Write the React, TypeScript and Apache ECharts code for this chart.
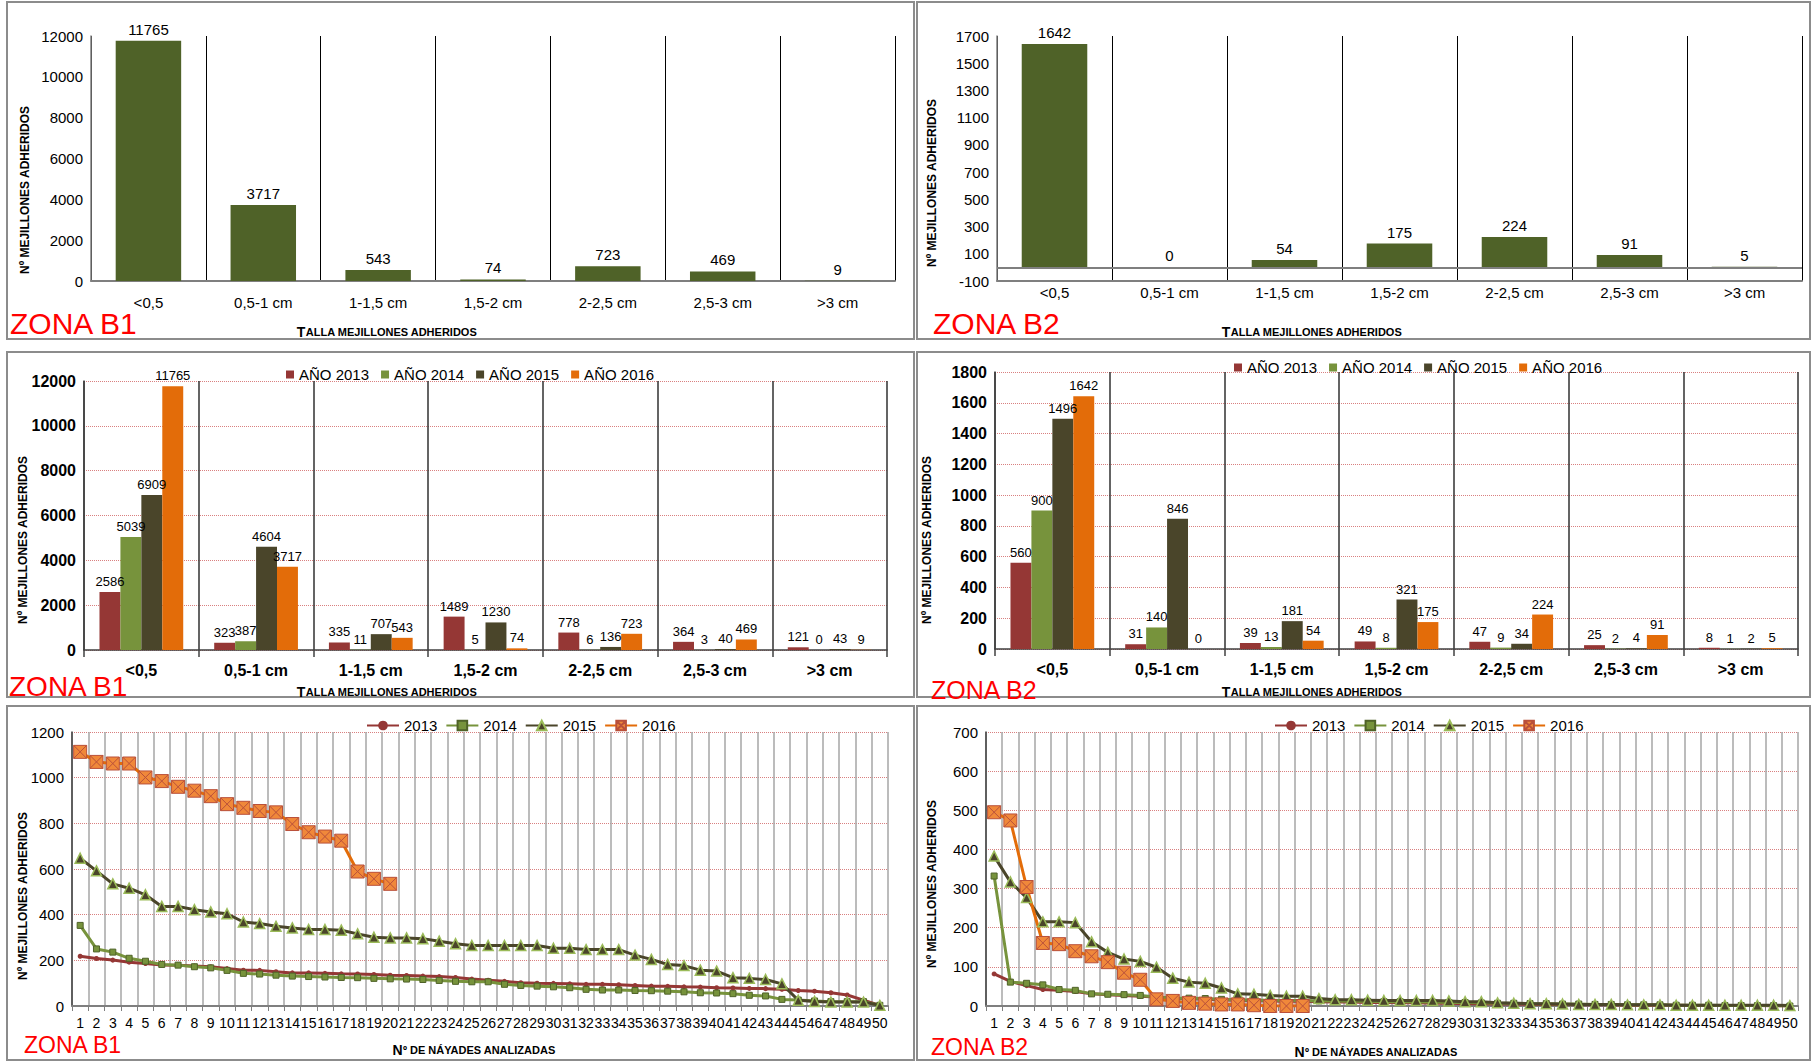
import React, { useEffect, useRef } from 'react';
import * as echarts from 'echarts';

const SIZE_CATEGORIES = ['<0,5', '0,5-1 cm', '1-1,5 cm', '1,5-2 cm', '2-2,5 cm', '2,5-3 cm', '>3 cm'];
const B1_TOTAL_2016 = [11765, 3717, 543, 74, 723, 469, 9];
const B2_TOTAL_2016 = [1642, 0, 54, 175, 224, 91, 5];

const YEAR_NAMES = ['AÑO 2013', 'AÑO 2014', 'AÑO 2015', 'AÑO 2016'];
const B1_2013 = [2586, 323, 335, 1489, 778, 364, 121];
const B1_2014 = [5039, 387, 11, 5, 6, 3, 0];
const B1_2015 = [6909, 4604, 707, 1230, 136, 40, 43];
const B1_2016 = [11765, 3717, 543, 74, 723, 469, 9];
const B2_2013 = [560, 31, 39, 49, 47, 25, 8];
const B2_2014 = [900, 140, 13, 8, 9, 2, 1];
const B2_2015 = [1496, 846, 181, 321, 34, 4, 2];
const B2_2016 = [1642, 0, 54, 175, 224, 91, 5];

const NAYADES = ['1', '2', '3', '4', '5', '6', '7', '8', '9', '10', '11', '12', '13', '14', '15', '16', '17', '18', '19', '20',
  '21', '22', '23', '24', '25', '26', '27', '28', '29', '30', '31', '32', '33', '34', '35', '36', '37', '38', '39', '40',
  '41', '42', '43', '44', '45', '46', '47', '48', '49', '50'];
const LINE_NAMES = ['2013', '2014', '2015', '2016'];

const B1_L2013 = [218, 208, 201, 192, 186, 180, 179, 175, 172, 164, 157, 156, 150, 145, 145, 143, 141, 140, 138, 135,
  134, 131, 129, 125, 118, 113, 108, 102, 100, 99, 97, 95, 95, 93, 90, 87, 86, 84, 83, 80,
  79, 77, 76, 73, 68, 65, 58, 48, 26, 3];
const B1_L2014 = [353, 250, 236, 209, 196, 182, 179, 172, 167, 156, 143, 140, 135, 131, 129, 127, 125, 124, 121, 119,
  118, 116, 112, 108, 106, 106, 95, 90, 87, 84, 80, 73, 70, 70, 68, 67, 65, 62, 58, 57,
  54, 47, 44, 29, 26, 22, 19, 19, 19, 3];
const B1_L2015 = [647, 592, 535, 516, 487, 436, 436, 422, 412, 404, 368, 361, 349, 342, 335, 335, 332, 316, 301, 298,
  298, 295, 284, 273, 265, 265, 265, 265, 265, 253, 253, 247, 247, 247, 223, 204, 182, 177, 157, 153,
  124, 121, 116, 97, 25, 20, 17, 17, 17, 3];
const B1_L2016 = [1113, 1069, 1062, 1062, 1001, 985, 960, 943, 919, 884, 868, 854, 848, 797, 761, 742, 724, 589, 557, 535];

const B2_L2013 = [82, 63, 52, 42, 40, 37, 31, 29, 27, 25, 23, 20, 19, 17, 16, 15, 14, 13, 12, 12,
  11, 10, 10, 9, 9, 8, 8, 7, 7, 6, 6, 5, 5, 4, 4, 4, 3, 3, 3, 2,
  2, 2, 2, 1, 1, 1, 1, 1, 0, 0];
const B2_L2014 = [332, 61, 58, 54, 42, 40, 31, 30, 29, 27, 23, 20, 20, 19, 17, 16, 15, 15, 14, 14,
  13, 13, 12, 12, 11, 11, 10, 10, 9, 9, 8, 7, 7, 6, 6, 5, 5, 4, 4, 3,
  3, 3, 2, 2, 2, 1, 1, 1, 1, 0];
const B2_L2015 = [383, 317, 277, 215, 215, 213, 164, 137, 120, 114, 99, 71, 61, 58, 46, 31, 30, 27, 25, 25,
  19, 16, 16, 15, 14, 14, 14, 14, 13, 11, 11, 8, 7, 6, 6, 5, 4, 4, 4, 3,
  3, 3, 2, 2, 2, 2, 2, 2, 2, 1];
const B2_L2016 = [495, 474, 304, 161, 158, 140, 127, 112, 85, 67, 17, 13, 8, 6, 4, 4, 2, 0, 0, 0];

const FN = '"Liberation Sans Narrow", "Arial Narrow", "Liberation Sans", Arial, sans-serif';
const FS = '"Liberation Sans", Arial, sans-serif';

const C2013 = '#953735';
const C2014 = '#77933c';
const C2015 = '#4a452a';
const C2016 = '#e36c09';
const OLIVE = '#4f6228';
const RED_DOT = { color: '#d98080', type: 'dotted', width: 1 };

const BOX_X = 'path://M0,0L10,0L10,10L0,10Z M0,0L10,10 M10,0L0,10';

function catAxis(gridIndex: number, data: string[], kind: 'top' | 'mid' | 'line', extra: any = {}) {
  const base: any = {
    gridIndex,
    type: 'category',
    data,
    axisLine: { onZero: false, lineStyle: { color: '#7f7f7f', width: 2 } },
    axisTick: { show: false },
    axisLabel: { color: '#000', fontFamily: FN, fontSize: 15, margin: 14, interval: 0 },
    splitLine: { show: true, lineStyle: { color: '#000', width: 1 } },
  };
  if (kind === 'mid') {
    base.axisLine = { onZero: false, lineStyle: { color: '#404040', width: 1.5 } };
    base.axisTick = { show: true, length: 7, lineStyle: { color: '#404040', width: 1.5 } };
    base.axisLabel = { color: '#000', fontFamily: FN, fontSize: 16, fontWeight: 'bold', margin: 12, interval: 0 };
    base.splitLine = { show: true, lineStyle: { color: '#303030', width: 1.5 } };
  }
  if (kind === 'line') {
    base.axisLine = { onZero: false, lineStyle: { color: '#7f7f7f', width: 2 } };
    base.axisTick = { show: true, length: 5, lineStyle: { color: '#7f7f7f' } };
    base.axisLabel = { color: '#000', fontFamily: FN, fontSize: 14, margin: 10, interval: 0 };
    base.splitLine = { show: true, lineStyle: { color: '#a6a6a6', width: 1.5 } };
  }
  return Object.assign(base, extra);
}

function valAxis(gridIndex: number, min: number, max: number, interval: number, kind: 'top' | 'mid' | 'line') {
  return {
    gridIndex,
    type: 'value',
    min,
    max,
    interval,
    axisLine: { show: true, lineStyle: { color: kind === 'top' ? '#7f7f7f' : '#404040', width: 1.5 } },
    axisTick: { show: false },
    axisLabel: {
      color: '#000',
      fontFamily: FN,
      fontSize: kind === 'mid' ? 16 : 15,
      fontWeight: kind === 'mid' ? 'bold' : 'normal',
      margin: 8,
      formatter: (v: number) => String(v),
    },
    splitLine: kind === 'top' ? { show: false } : { show: true, lineStyle: RED_DOT },
  };
}

function barLabel(size: number) {
  return { show: true, position: 'top', color: '#000', fontFamily: FN, fontSize: size, distance: 4 };
}

function groupBars(axis: number, values: number[][]) {
  const colors = [C2013, C2014, C2015, C2016];
  return values.map((v, i) => ({
    type: 'bar',
    name: YEAR_NAMES[i],
    xAxisIndex: axis,
    yAxisIndex: axis,
    data: v,
    barGap: '0%',
    barCategoryGap: '27%',
    itemStyle: { color: colors[i] },
    label: barLabel(13),
  }));
}

function lineSeries(axis: number, values: number[][]) {
  const styles = [
    { symbol: 'circle', symbolSize: 5, itemStyle: { color: C2013 }, lineStyle: { color: C2013, width: 3 } },
    { symbol: 'rect', symbolSize: 6, itemStyle: { color: '#77933c', borderColor: '#4f6228', borderWidth: 1 }, lineStyle: { color: C2014, width: 3 } },
    { symbol: 'triangle', symbolSize: 10, itemStyle: { color: C2015, borderColor: '#9bbb59', borderWidth: 1.5 }, lineStyle: { color: C2015, width: 3 } },
    { symbol: BOX_X, symbolSize: 13, itemStyle: { color: '#f0883a', borderColor: '#b9503a', borderWidth: 1 }, lineStyle: { color: C2016, width: 3 } },
  ];
  return values.map((v, i) => ({
    type: 'line',
    name: LINE_NAMES[i],
    xAxisIndex: axis,
    yAxisIndex: axis,
    data: v,
    showSymbol: true,
    showAllSymbol: true,
    ...styles[i],
  }));
}

function border(x: number, y: number, w: number, h: number) {
  return { type: 'rect', shape: { x, y, width: w, height: h }, style: { fill: 'none', stroke: '#8c8c8c', lineWidth: 2 }, silent: true };
}

function zona(text: string, x: number, y: number, size: number) {
  return { type: 'text', x, y, style: { text, fill: '#ff0000', font: `${size}px ${FS}`, align: 'left', verticalAlign: 'bottom' }, silent: true };
}

function yTitle(x: number, y: number) {
  return {
    type: 'text', x, y, rotation: Math.PI / 2,
    style: { text: 'Nº MEJILLONES ADHERIDOS', fill: '#000', font: `bold 12px ${FS}`, align: 'center', verticalAlign: 'middle' },
    silent: true,
  };
}

function xTitle(first: string, rest: string, x: number, y: number) {
  return {
    type: 'text', x, y,
    style: {
      text: `{a|${first}}{b|${rest}}`,
      align: 'center',
      verticalAlign: 'middle',
      rich: {
        a: { fontSize: 14, fontWeight: 'bold', fontFamily: FN, fill: '#000', color: '#000' },
        b: { fontSize: 11, fontWeight: 'bold', fontFamily: FN, fill: '#000', color: '#000' },
      },
    },
    silent: true,
  };
}

export default function App() {
  const ref = useRef<HTMLDivElement>(null);
  useEffect(() => {
    if (!ref.current) return;
    const chart = echarts.init(ref.current, undefined, { renderer: 'svg' });
    const option: any = {
      animation: false,
      backgroundColor: '#ffffff',
      textStyle: { fontFamily: FN },
      grid: [
        { left: 91, top: 36, width: 804, height: 245 },
        { left: 997, top: 36, width: 805, height: 245 },
        { left: 84, top: 381, width: 803, height: 269 },
        { left: 995, top: 372, width: 803, height: 277 },
        { left: 72, top: 732, width: 816, height: 274 },
        { left: 986, top: 732, width: 812, height: 274 },
      ],
      xAxis: [
        catAxis(0, SIZE_CATEGORIES, 'top'),
        catAxis(1, SIZE_CATEGORIES, 'top', { axisLabel: { color: '#000', fontFamily: FN, fontSize: 15, margin: 4, interval: 0 } }),
        catAxis(2, SIZE_CATEGORIES, 'mid'),
        catAxis(3, SIZE_CATEGORIES, 'mid'),
        catAxis(4, NAYADES, 'line'),
        catAxis(5, NAYADES, 'line'),
      ],
      yAxis: [
        valAxis(0, 0, 12000, 2000, 'top'),
        valAxis(1, -100, 1700, 200, 'top'),
        valAxis(2, 0, 12000, 2000, 'mid'),
        valAxis(3, 0, 1800, 200, 'mid'),
        valAxis(4, 0, 1200, 200, 'line'),
        valAxis(5, 0, 700, 100, 'line'),
      ],
      legend: [
        { data: YEAR_NAMES, left: 281, top: 362, icon: 'rect', itemWidth: 8, itemHeight: 8, itemGap: 12, textStyle: { fontFamily: FN, fontSize: 15, color: '#000' } },
        { data: YEAR_NAMES, left: 1229, top: 355, icon: 'rect', itemWidth: 8, itemHeight: 8, itemGap: 12, textStyle: { fontFamily: FN, fontSize: 15, color: '#000' } },
        { data: LINE_NAMES, left: 361, top: 713, itemWidth: 32, itemHeight: 12, itemGap: 8, textStyle: { fontFamily: FN, fontSize: 15, color: '#000' } },
        { data: LINE_NAMES, left: 1269, top: 713, itemWidth: 32, itemHeight: 12, itemGap: 8, textStyle: { fontFamily: FN, fontSize: 15, color: '#000' } },
      ],
      series: [
        {
          type: 'bar', name: 'B1 total', xAxisIndex: 0, yAxisIndex: 0, data: B1_TOTAL_2016,
          barWidth: '57%', itemStyle: { color: OLIVE }, label: barLabel(15),
        },
        {
          type: 'bar', name: 'B2 total', xAxisIndex: 1, yAxisIndex: 1, data: B2_TOTAL_2016,
          barWidth: '57%', itemStyle: { color: OLIVE }, label: barLabel(15),
          markLine: {
            silent: true, symbol: ['none', 'none'], label: { show: false },
            lineStyle: { color: '#7f7f7f', width: 2, type: 'solid' },
            data: [{ yAxis: 0 }],
          },
        },
        ...groupBars(2, [B1_2013, B1_2014, B1_2015, B1_2016]),
        ...groupBars(3, [B2_2013, B2_2014, B2_2015, B2_2016]),
        ...lineSeries(4, [B1_L2013, B1_L2014, B1_L2015, B1_L2016]),
        ...lineSeries(5, [B2_L2013, B2_L2014, B2_L2015, B2_L2016]),
      ],
      graphic: [
        border(7, 2, 907, 337),
        border(917, 2, 893, 337),
        border(7, 352, 907, 345),
        border(917, 352, 893, 345),
        border(7, 706, 907, 354),
        border(917, 706, 893, 354),
        zona('ZONA B1', 10, 338, 30),
        zona('ZONA B2', 933, 338, 30),
        zona('ZONA B1', 9, 700, 28),
        zona('ZONA B2', 931, 702, 25),
        zona('ZONA B1', 24, 1056, 23),
        zona('ZONA B2', 931, 1058, 23),
        yTitle(25, 190),
        yTitle(932, 183),
        yTitle(23, 540),
        yTitle(927, 540),
        yTitle(23, 896),
        yTitle(932, 884),
        xTitle('T', 'ALLA MEJILLONES ADHERIDOS', 387, 332),
        xTitle('T', 'ALLA MEJILLONES ADHERIDOS', 1312, 332),
        xTitle('T', 'ALLA MEJILLONES ADHERIDOS', 387, 692),
        xTitle('T', 'ALLA MEJILLONES ADHERIDOS', 1312, 692),
        xTitle('N', 'º DE NÁYADES ANALIZADAS', 474, 1050),
        xTitle('N', 'º DE NÁYADES ANALIZADAS', 1376, 1052),
      ],
    };
    chart.setOption(option);
    return () => chart.dispose();
  }, []);
  return <div ref={ref} style={{ position: 'absolute', left: 0, top: 0, width: 1813, height: 1062, background: '#fff' }} />;
}
